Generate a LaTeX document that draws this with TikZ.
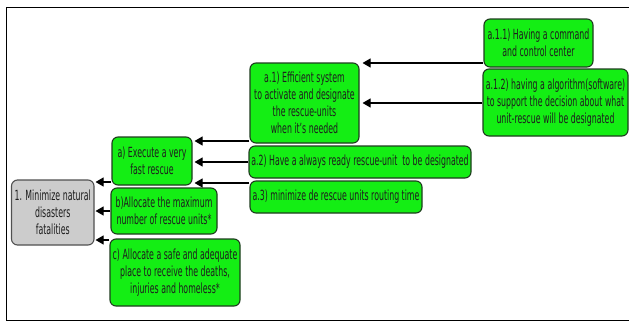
\documentclass[tikz,border=0pt]{standalone}
\usepackage{fontspec}
\setmainfont{DejaVu Sans}[FakeStretch=0.56]
\usetikzlibrary{arrows.meta}
\definecolor{boxgreen}{RGB}{20,238,20}
\definecolor{boxedge}{RGB}{30,60,30}
\definecolor{graybox}{RGB}{204,204,204}
\definecolor{grayedge}{RGB}{80,80,80}
\definecolor{txt}{RGB}{30,30,30}
\begin{document}
\begin{tikzpicture}[x=1pt,y=-1pt,
  gbox/.style={draw=boxedge,fill=boxgreen,line width=1.1pt,rounded corners=6pt,
    align=center,inner sep=0pt,text=txt,font=\fontsize{14}{17}\selectfont},
  greybox/.style={gbox,draw=grayedge,fill=graybox},
  arr/.style={draw=black,line width=1.1pt,-{Triangle[length=8pt,width=9pt]}}]
\useasboundingbox (0,0) rectangle (629,322);
\draw[line width=1.3pt] (629,7.5) -- (6.5,7.5) -- (6.5,320.5) -- (629,320.5);
\node[greybox,minimum width=82.5pt,minimum height=65pt] (g) at (52.75,212.5) {1. Minimize natural\\disasters\\fatalities};
\node[gbox,minimum width=80pt,minimum height=48pt] (a) at (152,161) {a) Execute a very\\fast rescue};
\node[gbox,minimum width=106pt,minimum height=46pt] (b) at (164,211) {b)Allocate the maximum\\number of rescue units*};
\node[gbox,minimum width=130pt,minimum height=67pt] (c) at (175,272.5) {c) Allocate a safe and adequate\\place to receive the deaths,\\injuries and homeless*};
\node[gbox,minimum width=109pt,minimum height=80pt] (a1) at (304.5,103) {a.1) Efficient system\\to activate and designate\\the rescue-units\\when it's needed};
\node[gbox,minimum width=222pt,minimum height=32pt] (a2) at (360,162) {a.2) Have a always ready rescue-unit\ \ to be designated};
\node[gbox,minimum width=172pt,minimum height=32pt] (a3) at (336,197) {a.3) minimize de rescue units routing time};
\node[gbox,minimum width=109pt,minimum height=48pt] (a11) at (538.5,43) {a.1.1) Having a command\\and control center};
\node[gbox,minimum width=145pt,minimum height=67pt] (a12) at (555.5,102.5) {a.1.2) having a algorithm(software)\\to support the decision about what\\unit-rescue will be designated};
\draw[arr] (a.west |- 0,182) -- ([xshift=1pt]g.east |- 0,182);
\draw[arr] (b.west |- 0,211) -- ([xshift=1pt]g.east |- 0,211);
\draw[arr] (c.west |- 0,240) -- ([xshift=1pt]g.east |- 0,240);
\draw[arr] (a1.west |- 0,141) -- ([xshift=2pt]a.east |- 0,141);
\draw[arr] (a2.west |- 0,162) -- ([xshift=2pt]a.east |- 0,162);
\draw[arr] (a3.west |- 0,183) -- ([xshift=2pt]a.east |- 0,183);
\draw[arr] (a11.west |- 0,63) -- ([xshift=3pt]a1.east |- 0,63);
\draw[arr] (a12.west |- 0,103) -- ([xshift=3pt]a1.east |- 0,103);
\end{tikzpicture}
\end{document}
